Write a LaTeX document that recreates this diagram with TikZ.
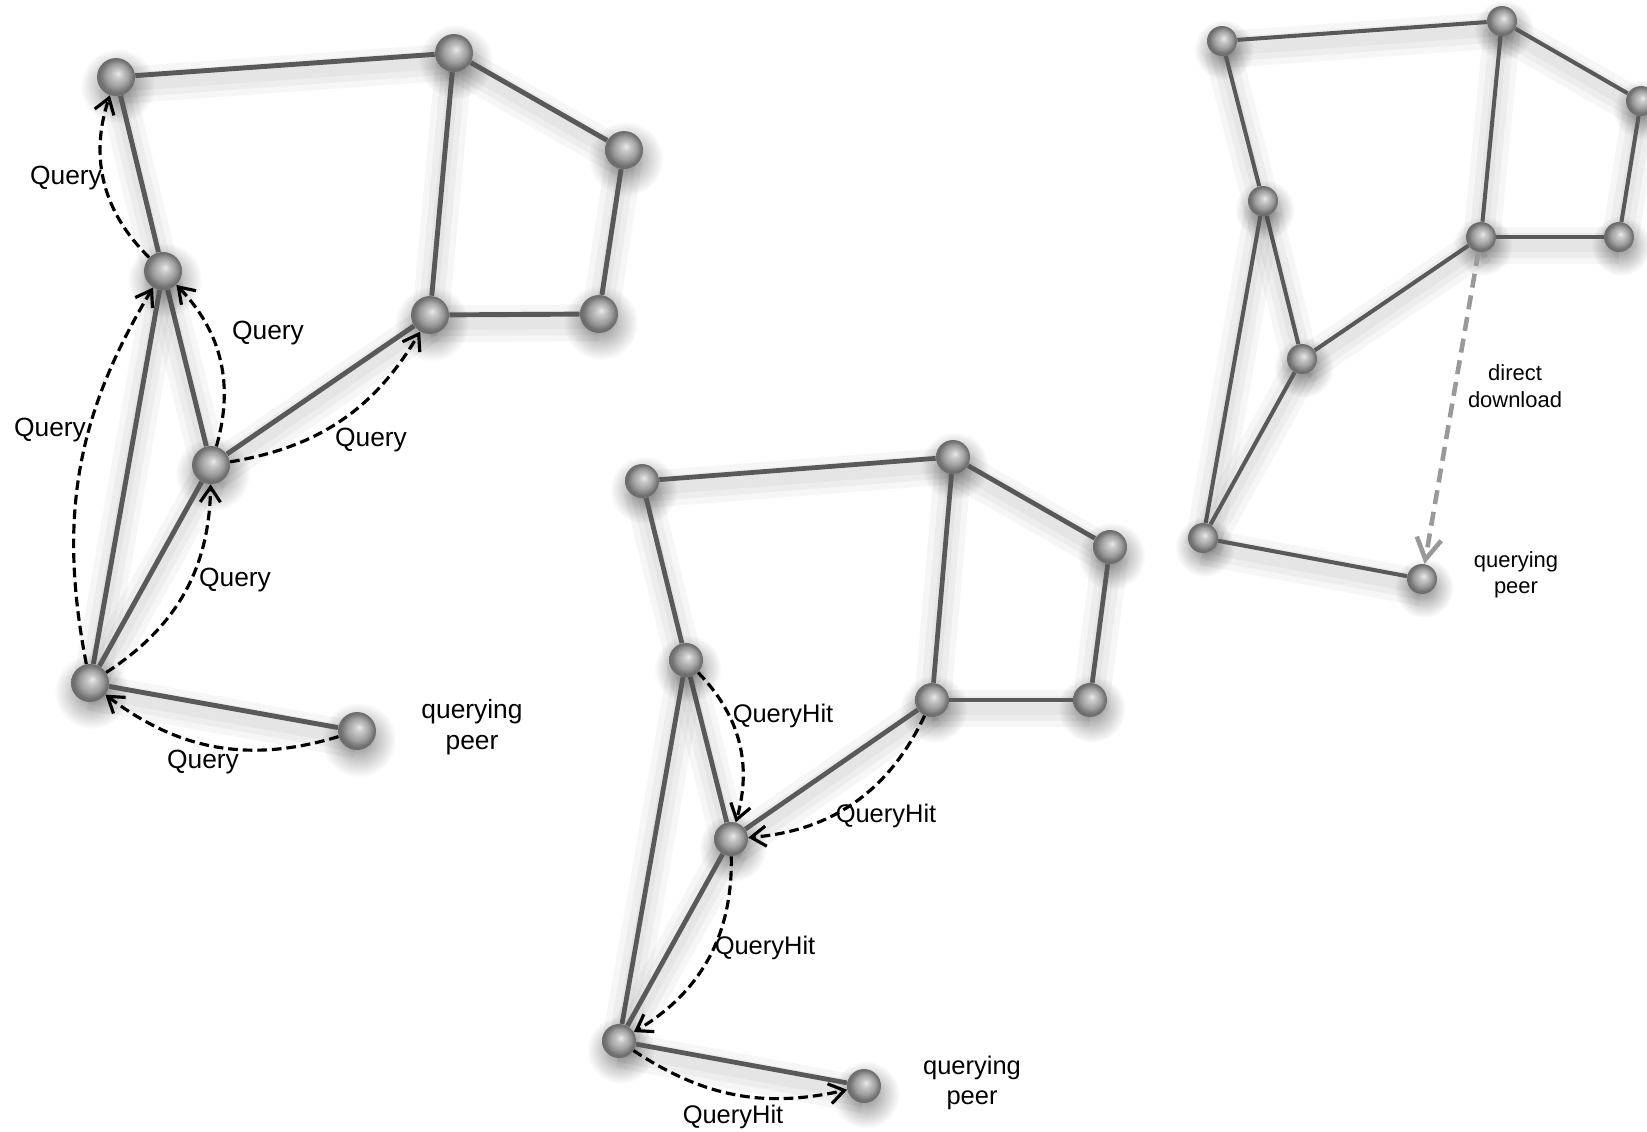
\documentclass[tikz,border=0pt]{standalone}
\usepackage{fontspec}
\setmainfont{Liberation Sans}
\usetikzlibrary{arrows.meta, backgrounds, fadings}

\tikzfading[name=softspot, inner color=transparent!0, outer color=transparent!100]
\pgfdeclareradialshading{peerball}{\pgfpoint{3bp}{5bp}}{color(0bp)=(black!8); color(5bp)=(black!20); color(15bp)=(black!38); color(22bp)=(black!56); color(30bp)=(black!60)}

\begin{document}
\begin{tikzpicture}[
			x=0.02cm, y=0.02cm,
			font=\fontsize{14.5}{17}\selectfont,
			% Styles
			peer/.style={circle, inner sep=0pt, minimum size=#1, shading=peerball},
			peer/.default=0.76cm,
			link/.style={line width=2.8pt, draw=black!65},
			glow/.style={line width=#1, draw=black, draw opacity=0.035},
			query/.style={-{Straight Barb[length=8.5pt, width=11.5pt]}, line width=1.8pt, dash pattern=on 5.5pt off 2.8pt},
			download/.style={-{Straight Barb[length=12pt, width=14pt]}, line width=2.6pt, draw=black!40, dash pattern=on 8pt off 4.5pt},
			tag/.style={align=center, inner sep=0pt}
			]
			
			\useasboundingbox (0,0) rectangle (1647,-1132);
			
			% --- 1. Query flooding ---
			\node[peer] (A1) at (116,-77) {};
			\node[peer] (A2) at (454,-53) {};
			\node[peer] (A3) at (624,-150) {};
			\node[peer] (A4) at (430,-315) {};
			\node[peer] (A5) at (599,-314) {};
			\node[peer] (A6) at (163,-271) {};
			\node[peer] (A7) at (211,-465) {};
			\node[peer] (A8) at (90,-683) {};
			\node[peer] (A9) at (357,-731) {};
			
			% --- 2. QueryHit back along the path ---
			\node[peer=0.68cm] (B1) at (642,-481) {};
			\node[peer=0.68cm] (B2) at (953,-457) {};
			\node[peer=0.68cm] (B3) at (1110,-547) {};
			\node[peer=0.68cm] (B4) at (932,-700) {};
			\node[peer=0.68cm] (B5) at (1090,-700) {};
			\node[peer=0.68cm] (B6) at (686,-660) {};
			\node[peer=0.68cm] (B7) at (731,-839) {};
			\node[peer=0.68cm] (B8) at (619,-1041) {};
			\node[peer=0.68cm] (B9) at (864,-1086) {};
			
			% --- 3. Direct download ---
			\node[peer=0.6cm] (C1) at (1222,-41) {};
			\node[peer=0.6cm] (C2) at (1502,-21) {};
			\node[peer=0.6cm] (C3) at (1641,-101) {};
			\node[peer=0.6cm] (C4) at (1481,-237) {};
			\node[peer=0.6cm] (C5) at (1619,-237) {};
			\node[peer=0.6cm] (C6) at (1263,-201) {};
			\node[peer=0.6cm] (C7) at (1302,-359) {};
			\node[peer=0.6cm] (C8) at (1203,-538) {};
			\node[peer=0.6cm] (C9) at (1422,-579) {};
			
			% Links and soft shadows (same overlay in all three)
			\begin{scope}[on background layer]
				\foreach \n/\w/\r in {A/2.8pt/0.75cm, B/2.7pt/0.68cm, C/2.3pt/0.6cm} {
					\foreach \i in {1,...,9}
						\fill[black, opacity=0.45, path fading=softspot] ([shift={(1pt,-5pt)}]\n\i.center) circle (\r);
					\foreach \a/\b in {1/2,2/3,2/4,3/5,4/5,1/6,6/7,6/8,7/4,7/8,8/9} {
						\foreach \g in {7pt,14pt,21pt}
							\draw[glow=\g] ([yshift=-5pt]\n\a.center) -- ([yshift=-5pt]\n\b.center);
						\draw[link, line width=\w] (\n\a) -- (\n\b);
					}
				}
			\end{scope}
			
			% Query messages
			\draw[query] (A6) to[bend left=32] (A1);
			\draw[query] (A7) to[bend right=30] (A6);
			\draw[query] (A8) to[bend left=21] (A6);
			\draw[query] (A7) to[bend right=25] (A4);
			\draw[query] (A8) to[bend right=28] (A7);
			\draw[query] (A9) to[bend left=27] (A8);
			
			\node[tag, font=\fontsize{15}{17}\selectfont] (q1) at (66,-178) {Query};
			\node[tag, font=\fontsize{15}{17}\selectfont] (q2) at (268,-333) {Query};
			\node[tag, font=\fontsize{15}{17}\selectfont] (q3) at (50,-430) {Query};
			\node[tag, font=\fontsize{15}{17}\selectfont] (q4) at (371,-440) {Query};
			\node[tag, font=\fontsize{15}{17}\selectfont] (q5) at (235,-580) {Query};
			\node[tag, font=\fontsize{15}{17}\selectfont] (q6) at (203,-762) {Query};
			\node[tag, font=\fontsize{15}{18}\selectfont] (askA) at (472,-727) {querying\\peer};
			
			% QueryHit messages
			\draw[query] (B6) to[bend left=30] (B7);
			\draw[query] (B4) to[bend left=30] (B7);
			\draw[query] (B7) to[bend left=30] (B8);
			\draw[query] (B8) to[bend right=23] (B9);
			
			\node[tag] (h1) at (783,-716) {QueryHit};
			\node[tag] (h2) at (886,-816) {QueryHit};
			\node[tag] (h3) at (765,-948) {QueryHit};
			\node[tag] (h4) at (733,-1117) {QueryHit};
			\node[tag, font=\fontsize{14.5}{17.5}\selectfont] (askB) at (972,-1083) {querying\\peer};
			
			% Download
			\draw[download] (C4) -- (C9);
			\node[tag, font=\fontsize{12.5}{15}\selectfont] (dl) at (1515,-386) {direct\\download};
			\node[tag, font=\fontsize{12.5}{15}\selectfont] (askC) at (1516,-575) {querying\\peer};
			
		\end{tikzpicture}
\end{document}
